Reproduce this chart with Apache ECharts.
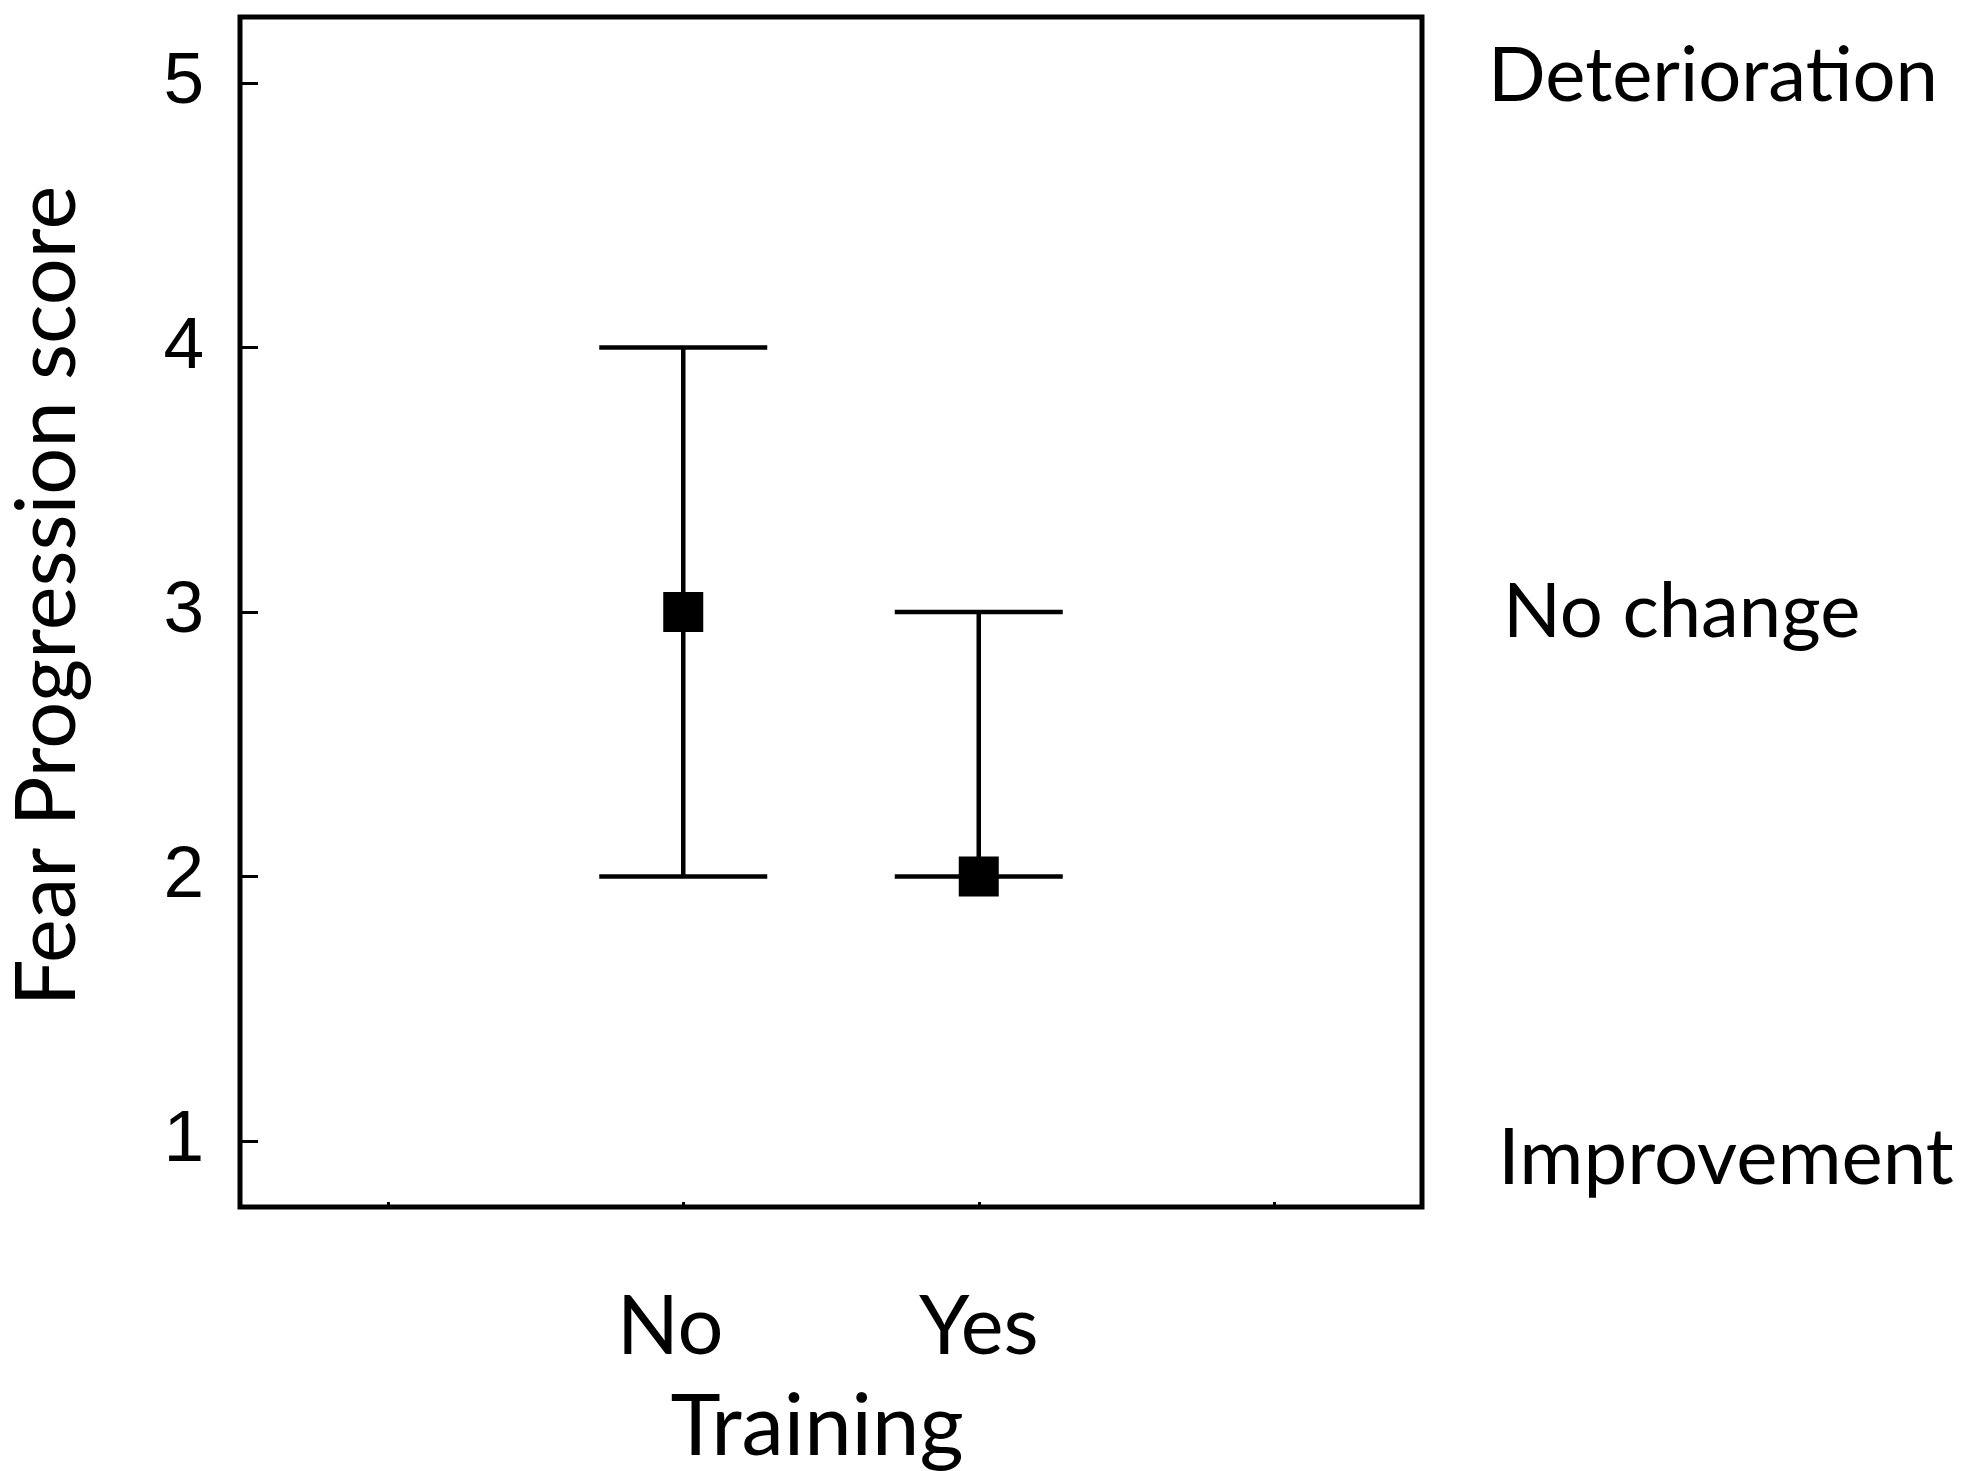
<!DOCTYPE html>
<html>
<head>
<meta charset="utf-8">
<script src="https://cdn.jsdelivr.net/npm/echarts@6/dist/echarts.min.js"></script>
<style>
  html, body { margin: 0; padding: 0; background: #fff; }
  #chart { width: 1972px; height: 1471px; }
</style>
</head>
<body>
<div id="chart"></div>
<script>
// Groups on the x axis (empty slots keep the outer ticks)
const categories = ['', 'No', 'Yes', ''];
const groups = ['No', 'Yes'];
// Median, lower and upper fear progression scores per group
const medians = [3, 2];
const lowers = [2, 2];
const uppers = [4, 3];
// Axis tick values
const yTicks = [1, 2, 3, 4, 5];
const sideTicks = [1, 3, 5];
const sideLabels = { 1: 'Improvement', 3: 'No change', 5: 'Deterioration' };

const chart = echarts.init(document.getElementById('chart'), null, { renderer: 'canvas' });

const textFont = 'Lato';
const digitFont = 'Liberation Sans';

const sideStyle = { fontFamily: textFont, fontSize: 76, color: '#000' };

const option = {
  backgroundColor: '#ffffff',
  animation: false,
  grid: {
    left: 240, right: 550, top: 17, bottom: 264,
    outerBoundsMode: 'none',
    containLabel: false,
    show: true, borderColor: '#000', borderWidth: 5, backgroundColor: 'transparent'
  },
  xAxis: {
    type: 'category',
    data: categories,
    boundaryGap: true,
    axisLine: { show: false },
    axisTick: { show: true, inside: true, length: 5, alignWithLabel: true, interval: 0,
                lineStyle: { color: '#000', width: 3 } },
    axisLabel: {
      interval: 0, margin: 80, fontFamily: textFont, fontSize: 81, color: '#000',
      formatter: v => v === 'No' ? '{no|No}' : v,
      rich: { no: { fontFamily: textFont, fontSize: 81, color: '#000', padding: [0, 26, 0, 0] } }
    },
    name: 'Training',
    nameLocation: 'middle',
    nameGap: 178,
    nameTextStyle: { fontFamily: textFont, fontSize: 85, color: '#000', padding: [0, 28, 0, 0] }
  },
  yAxis: [{
    type: 'value',
    min: 0.75, max: 5.25,
    splitLine: { show: false },
    axisLine: { show: false },
    axisTick: { show: true, inside: true, length: 18, customValues: yTicks,
                lineStyle: { color: '#000', width: 3 } },
    axisLabel: { customValues: yTicks, margin: 36, fontFamily: digitFont, fontSize: 73, color: '#000' },
    name: 'Fear Progression score',
    nameLocation: 'middle',
    nameGap: 150,
    nameRotate: 90,
    nameTextStyle: { fontFamily: textFont, fontSize: 83, color: '#000', padding: [0, 0, 0, 32] }
  }, {
    type: 'value',
    position: 'right',
    min: 0.75, max: 5.25,
    splitLine: { show: false },
    axisLine: { show: false },
    axisTick: { show: false },
    axisLabel: {
      customValues: sideTicks,
      margin: 64,
      align: 'left',
      fontFamily: textFont, fontSize: 76, color: '#000',
      formatter: v => v === 5 ? '{top|' + sideLabels[v] + '}'
                    : v === 1 ? '{bot|' + sideLabels[v] + '}'
                    : '{mid|' + sideLabels[v] + '}',
      rich: {
        top: Object.assign({ padding: [0, 0, 14, 2] }, sideStyle),
        mid: Object.assign({ padding: [0, 0, 0, 17] }, sideStyle),
        bot: Object.assign({ padding: [36, 0, 0, 12] }, Object.assign({}, sideStyle, { fontSize: 78 }))
      }
    }
  }],
  series: [{
    type: 'custom',
    name: 'range',
    renderItem: function (params, api) {
      const x = api.value(0);
      const lo = api.coord([x, api.value(1)]);
      const hi = api.coord([x, api.value(2)]);
      const half = 84;
      const style = { stroke: '#000', lineWidth: 4.5 };
      return {
        type: 'group',
        children: [
          { type: 'line', shape: { x1: lo[0], y1: lo[1], x2: hi[0], y2: hi[1] }, style },
          { type: 'line', shape: { x1: lo[0] - half, y1: lo[1], x2: lo[0] + half, y2: lo[1] }, style },
          { type: 'line', shape: { x1: hi[0] - half, y1: hi[1], x2: hi[0] + half, y2: hi[1] }, style }
        ]
      };
    },
    encode: { x: 0, y: [1, 2] },
    data: groups.map((g, i) => [g, lowers[i], uppers[i]]),
    z: 2
  }, {
    type: 'scatter',
    name: 'median',
    symbol: 'rect',
    symbolSize: 40,
    itemStyle: { color: '#000', opacity: 1 },
    data: groups.map((g, i) => [g, medians[i]]),
    z: 3
  }]
};

chart.setOption(option);
</script>
</body>
</html>
